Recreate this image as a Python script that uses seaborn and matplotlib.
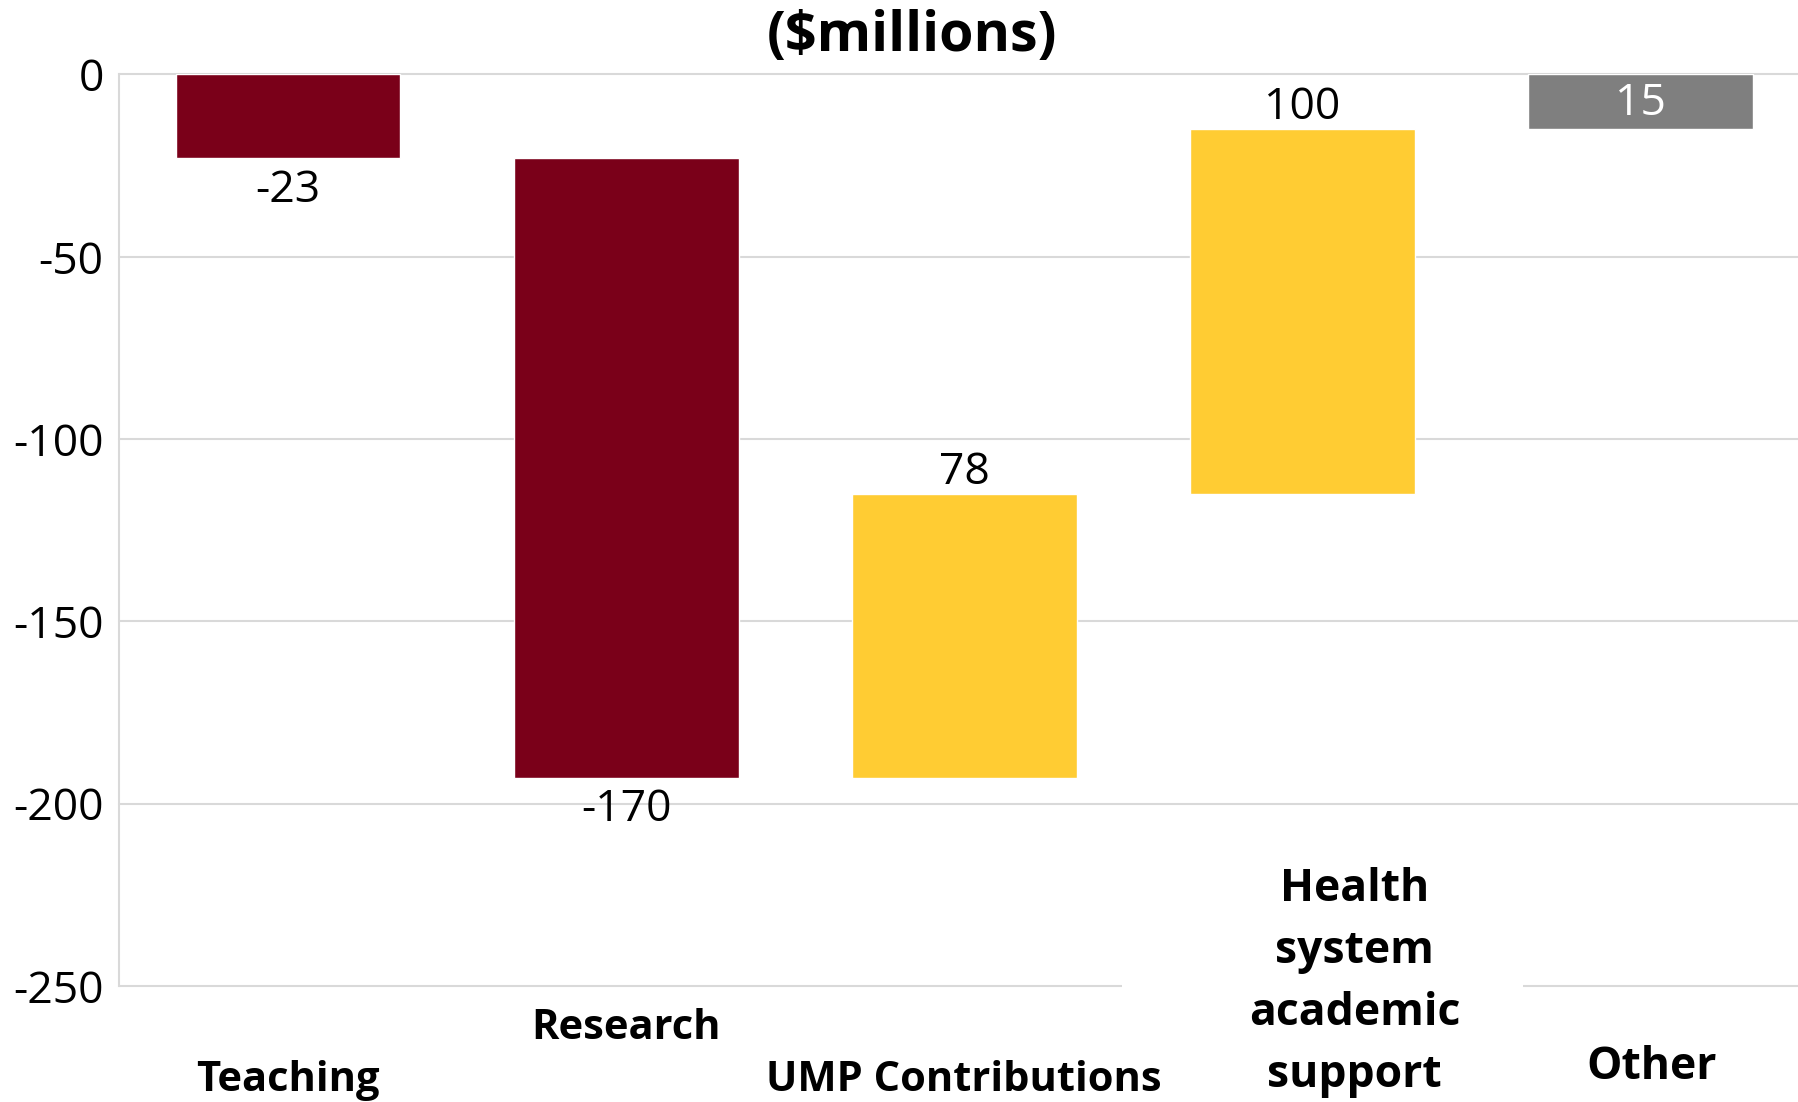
import matplotlib
matplotlib.use("Agg")
import matplotlib.pyplot as plt
import matplotlib.patches as mpatches
import numpy as np
import pandas as pd
import seaborn as sns

# waterfall data ($millions)
categories = ["Teaching", "Research", "UMP Contributions",
              "Health system academic support", "Other"]
changes = [-23, -170, 78, 100, 15]
value_labels = ["-23", "-170", "78", "100", "15"]
tick_labels = ["Teaching", "Research", "UMP Contributions",
               "Health\nsystem\nacademic\nsupport", "Other"]
bar_colors = ["#7A0019", "#7A0019", "#FFCC33", "#FFCC33", "#7F7F7F"]
y_ticks = [0, -50, -100, -150, -200, -250]

starts = np.concatenate([[0], np.cumsum(changes)[:-1]])
df = pd.DataFrame({"category": categories, "change": changes, "start": starts})

sns.set_theme(style="white")
plt.rcParams["font.family"] = ["Open Sans", "DejaVu Sans"]
plt.rcParams["text.color"] = "black"
plt.rcParams["ytick.color"] = "black"

fig = plt.figure(figsize=(17.98, 11.02), dpi=100)
ax = fig.add_axes([0.0662, 0.1053, 0.9338, 0.8271])

sns.barplot(data=df, x="category", y="change", hue="category",
            palette=bar_colors, saturation=1, width=0.665, legend=False,
            ax=ax, zorder=2)

# shift each bar so it floats from the running total
for patch, s, c in zip(ax.patches, df["start"], df["change"]):
    patch.set_y(s)
    patch.set_height(c)

ax.set_ylim(-250, 0)
ax.set_xlim(-0.5, 4.466)
ax.set_yticks(y_ticks)
ax.set_yticklabels([str(t) for t in y_ticks], fontsize=32)
ax.tick_params(axis="y", length=0, pad=11)
ax.set_xticks([])
ax.set_xlabel("")
ax.set_ylabel("")

for t in y_ticks:
    ax.axhline(t, color="#D9D9D9", lw=1.5, zorder=0, clip_on=False)
for side in ["top", "right", "bottom"]:
    ax.spines[side].set_visible(False)
ax.spines["left"].set_color("#D9D9D9")
ax.spines["left"].set_linewidth(1.5)

# value labels
for i, (s, c, lab) in enumerate(zip(df["start"], df["change"], value_labels)):
    end = s + c
    if i == len(changes) - 1:
        ax.text(i, (s + end) / 2 - 0.6, lab, ha="center", va="center",
                fontsize=32, color="white")
    elif c < 0:
        ax.text(i, end - 8.8, lab, ha="center", va="center", fontsize=32)
    else:
        ax.text(i, end + 5.8, lab, ha="center", va="center", fontsize=32)

# white block behind the multi-line label, breaking the bottom gridline
ax.add_patch(mpatches.Rectangle((2.466, -256), 1.187, 12, facecolor="white",
                                edgecolor="none", zorder=1, clip_on=False))

# staggered category labels
label_pos = [(0.0, -276.0), (1.0, -261.8), (2.0, -276.0), (3.154, -249.0), (4.032, -272.4)]
label_sizes = [30, 30, 30, 32, 32]
for lab, (x, y), fs in zip(tick_labels, label_pos, label_sizes):
    ax.text(x, y, lab, ha="center", va="center", fontsize=fs,
            fontweight="bold", clip_on=False, zorder=5, linespacing=1.5)

fig.text(0.507, 0.967, "($millions)", ha="center", va="center",
         fontsize=40, fontweight="bold")

fig.savefig("out.png", dpi=100)
